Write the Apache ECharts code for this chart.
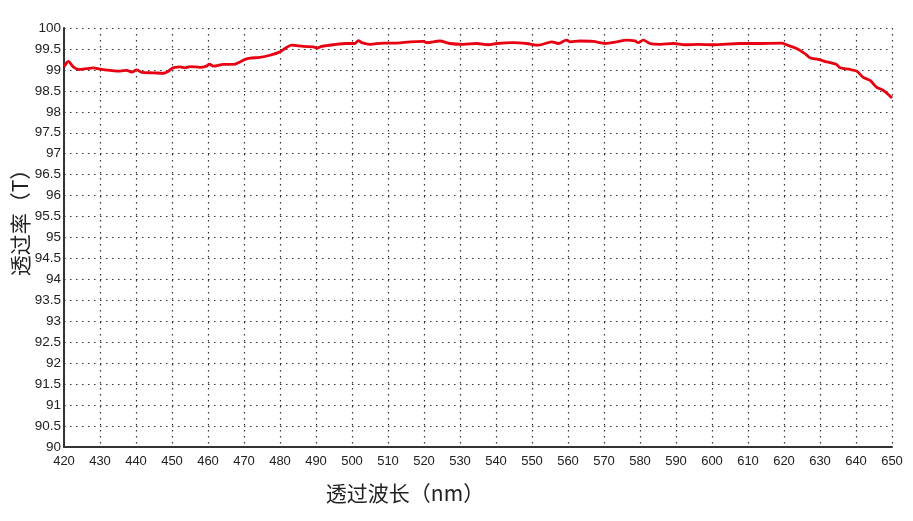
<!DOCTYPE html>
<html>
<head>
<meta charset="utf-8">
<script src="https://cdn.jsdelivr.net/npm/echarts@6/dist/echarts.min.js"></script>
<style>
    html, body { margin: 0; padding: 0; background: #fff; }
    #chart { width: 913px; height: 521px; }
</style>
</head>
<body>
<div id="chart"></div>
<script>
// 波长 (nm) 和对应透过率 (T)
var wavelength = [420, 421.2, 422.6, 424, 426.3, 428.1, 430, 432.8, 435.6, 437.4, 438.8, 440.2, 441.6, 444.8, 447.6, 449, 449.9, 450.8, 452.2, 453.6, 455, 457.8, 459.6, 460.4, 461.5, 464.3, 467, 468.9, 470.3, 471.7, 474.4, 477.2, 480, 481.4, 483.2, 486.5, 489.3, 490.2, 491.6, 494.8, 498.5, 500.8, 501.8, 502.7, 505, 508.7, 512.4, 516.1, 519.8, 520.7, 524.4, 527.2, 530.9, 534.6, 537.9, 540.2, 544.8, 548.5, 551.8, 555.5, 557.3, 559.6, 560.6, 563.3, 567, 570.3, 573.5, 576.3, 578.6, 579.5, 580.9, 582.8, 585.6, 589.3, 592.5, 596.2, 600.4, 607.8, 612.4, 619.4, 620.7, 623.5, 625.8, 627.2, 629.5, 631.9, 634.6, 635.6, 638.3, 640.2, 642, 643.9, 645.7, 647.6, 650];
var transmit = [99.07, 99.2, 99.07, 99.01, 99.03, 99.05, 99.02, 98.99, 98.97, 98.99, 98.95, 99.0, 98.94, 98.93, 98.92, 98.97, 99.03, 99.06, 99.07, 99.05, 99.08, 99.06, 99.09, 99.14, 99.09, 99.13, 99.13, 99.19, 99.25, 99.28, 99.3, 99.35, 99.43, 99.51, 99.59, 99.56, 99.55, 99.52, 99.56, 99.6, 99.63, 99.63, 99.7, 99.65, 99.61, 99.64, 99.64, 99.67, 99.68, 99.65, 99.69, 99.63, 99.61, 99.63, 99.6, 99.63, 99.65, 99.63, 99.59, 99.67, 99.63, 99.71, 99.67, 99.69, 99.68, 99.63, 99.67, 99.71, 99.69, 99.65, 99.71, 99.63, 99.61, 99.63, 99.6, 99.61, 99.6, 99.63, 99.63, 99.64, 99.6, 99.51, 99.39, 99.29, 99.25, 99.19, 99.13, 99.05, 99.01, 98.97, 98.82, 98.75, 98.59, 98.51, 98.33];

var series_data = [];
wavelength.forEach(function (w, i) {
    series_data.push([w, transmit[i]]);
});

var myChart = echarts.init(document.getElementById('chart'));
var option = {
    animation: false,
    backgroundColor: '#fff',
    grid: {
        left: 64,
        right: 21,
        top: 28,
        bottom: 74,
        containLabel: false,
        outerBoundsMode: 'none'
    },
    xAxis: {
        type: 'value',
        min: 420,
        max: 650,
        interval: 10,
        name: '透过波长（nm）',
        nameLocation: 'middle',
        nameGap: 36,
        nameTextStyle: {
            fontFamily: 'Noto Sans CJK SC',
            fontSize: 21,
            color: '#222',
            padding: [0, 146, 0, 0]   // 原图标题偏左
        },
        axisLine: { lineStyle: { color: '#333', width: 2 } },
        axisTick: { show: false },
        axisLabel: {
            margin: 8,
            fontFamily: 'Liberation Sans',
            fontSize: 13,
            color: '#222'
        },
        splitLine: {
            show: true,
            lineStyle: { color: '#333', width: 1.2, type: [1.5, 4.5] }
        }
    },
    yAxis: {
        type: 'value',
        min: 90,
        max: 100,
        interval: 0.5,
        name: '透过率（T）',
        nameLocation: 'middle',
        nameGap: 33,
        nameMoveOverlap: false,
        nameRotate: 90,
        nameTextStyle: {
            fontFamily: 'Noto Sans CJK SC',
            fontSize: 21,
            color: '#222',
            padding: [0, 0, 0, 40]
        },
        axisLine: { show: true, lineStyle: { color: '#333', width: 2 } },
        axisTick: { show: false },
        axisLabel: {
            margin: 3,
            fontFamily: 'Liberation Sans',
            fontSize: 13.5,
            color: '#222'
        },
        splitLine: {
            show: true,
            lineStyle: { color: '#333', width: 1.2, type: [1.5, 4.5] }
        }
    },
    series: [{
        type: 'line',
        data: series_data,
        showSymbol: false,
        smooth: 0.3,
        lineStyle: { color: '#e60012', width: 2.8 }
    }]
};
myChart.setOption(option);
</script>
</body>
</html>
